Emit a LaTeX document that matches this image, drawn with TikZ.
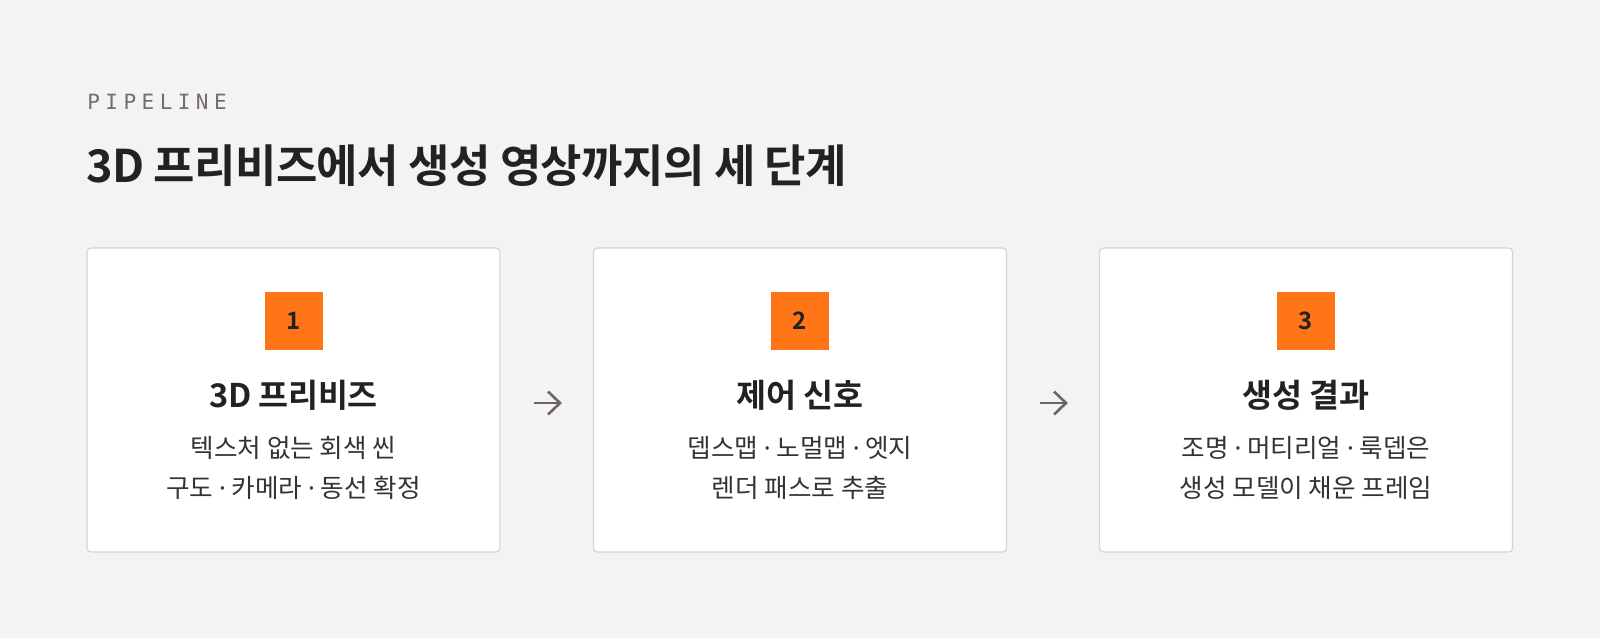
\documentclass[tikz,border=0pt]{standalone}
\usepackage{fontspec}
\usetikzlibrary{arrows.meta}

\newfontfamily\headfont[LetterSpace=-1.5]{Noto Sans CJK KR Bold}
\newfontfamily\cardfont[LetterSpace=-1]{Noto Sans CJK KR Bold}
\newfontfamily\descfont{Noto Sans CJK KR}
\newfontfamily\dotfont{Noto Sans}
\newfontfamily\kickerfont[LetterSpace=26]{DejaVu Sans Mono}
\newcommand\midsep{{\dotfont ·}}

\definecolor{pagebg}{HTML}{F3F3F3}
\definecolor{cardline}{HTML}{D4D4D4}
\definecolor{accent}{HTML}{FF7518}
\definecolor{ink}{HTML}{222222}
\definecolor{softink}{HTML}{333333}
\definecolor{muted}{HTML}{766C69}
\definecolor{arrowgray}{HTML}{6C6563}

\tikzset{
	card/.style={draw=cardline, fill=white, line width=0.6pt, rounded corners=2pt,
		minimum width=206.5pt, minimum height=152pt, inner sep=0pt},
	badge/.style={fill=accent, minimum size=29pt, inner sep=0pt, text=ink,
		font=\cardfont\fontsize{12}{14}\selectfont},
	cardtitle/.style={text=ink, inner sep=0pt, font=\cardfont\fontsize{16.3}{19}\selectfont},
	carddesc/.style={text=softink, inner sep=0pt, align=center,
		font=\descfont\fontsize{12.8}{20}\selectfont},
	flow/.style={arrowgray, line width=1.3pt, -{Straight Barb[length=6pt,width=11.5pt]}},
}

\begin{document}
\begin{tikzpicture}[x=0.5pt,y=-0.5pt]
		\fill[pagebg] (0,0) rectangle (1600,638);
		\node[anchor=base west, inner sep=0pt, text=muted,
			font=\kickerfont\fontsize{10.5}{12}\selectfont] (kicker) at (87,109.5) {PIPELINE};
		\node[anchor=base west, inner sep=0pt, text=ink,
			font=\headfont\fontsize{22.5}{27}\selectfont] (headline) at (86,182)
			{3D 프리비즈에서 생성 영상까지의 세 단계};
		\path
			 (293.5,400) node[card]      (card1)  {}
			+(0,  -79)   node[badge]     (badge1) {1}
			+(0,   -4.5) node[cardtitle] (title1) {3D 프리비즈}
			+(0,   68)   node[carddesc]  (desc1)  {텍스처 없는 회색 씬\\구도 \midsep{} 카메라 \midsep{} 동선 확정}
			 (800,400)   node[card]      (card2)  {}
			+(0,  -79)   node[badge]     (badge2) {2}
			+(0,   -4.5) node[cardtitle] (title2) {제어 신호}
			+(0,   68)   node[carddesc]  (desc2)  {뎁스맵 \midsep{} 노멀맵 \midsep{} 엣지\\렌더 패스로 추출}
			 (1306,400)  node[card]      (card3)  {}
			+(0,  -79)   node[badge]     (badge3) {3}
			+(0,   -4.5) node[cardtitle] (title3) {생성 결과}
			+(0,   68)   node[carddesc]  (desc3)  {조명 \midsep{} 머티리얼 \midsep{} 룩뎁은\\생성 모델이 채운 프레임}
		;
		\draw[flow, shorten <=16.5pt, shorten >=15.5pt] ([yshift=-1.5pt]card1.east) -- ([yshift=-1.5pt]card2.west);
		\draw[flow, shorten <=16.5pt, shorten >=15.5pt] ([yshift=-1.5pt]card2.east) -- ([yshift=-1.5pt]card3.west);
	\end{tikzpicture}
\end{document}
